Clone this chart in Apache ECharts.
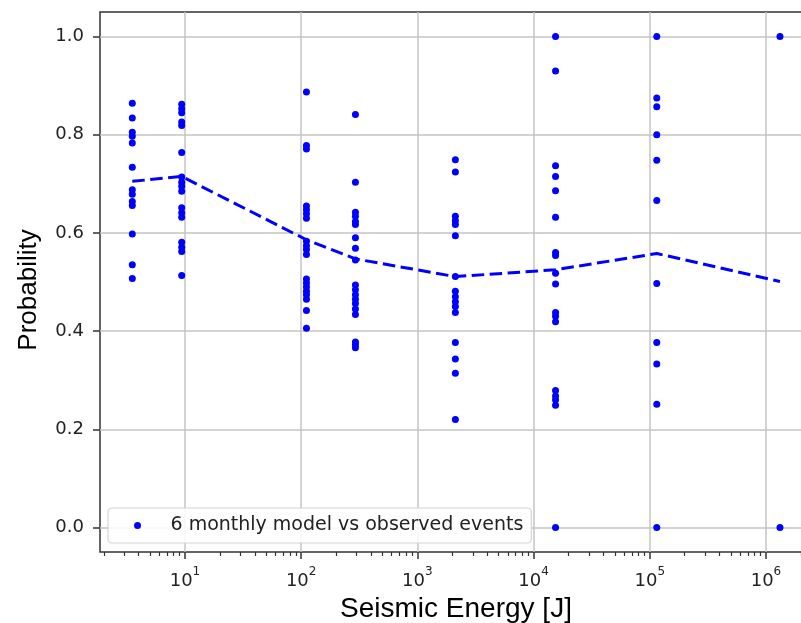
<!DOCTYPE html>
<html>
<head>
<meta charset="utf-8">
<script src="https://cdn.jsdelivr.net/npm/echarts@6/dist/echarts.min.js"></script>
<style>html,body{margin:0;padding:0;background:#fff;overflow:hidden}#c{width:801px;height:623px}</style>
</head>
<body>
<div id="c"></div>
<script>
// ---- data ----
const seriesName = '6 monthly model vs observed events';
const energies = [3.52, 9.37, 111, 293, 2123, 15460, 114900, 1320000];
const probCol1 = [0.864, 0.834, 0.805, 0.797, 0.783, 0.734, 0.688, 0.679, 0.664, 0.656, 0.598, 0.535, 0.507];
const probCol2 = [0.862, 0.853, 0.845, 0.826, 0.819, 0.764, 0.714, 0.703, 0.695, 0.685, 0.651, 0.641, 0.632, 0.581, 0.571, 0.562, 0.513];
const probCol3 = [0.887, 0.778, 0.771, 0.655, 0.647, 0.639, 0.630, 0.583, 0.574, 0.566, 0.556, 0.506, 0.498, 0.490, 0.481, 0.474, 0.465, 0.442, 0.406];
const probCol4 = [0.841, 0.703, 0.642, 0.634, 0.623, 0.617, 0.590, 0.569, 0.545, 0.494, 0.484, 0.474, 0.465, 0.456, 0.445, 0.434, 0.378, 0.372, 0.366];
const probCol5 = [0.749, 0.724, 0.634, 0.625, 0.617, 0.594, 0.511, 0.481, 0.470, 0.460, 0.450, 0.438, 0.377, 0.343, 0.314, 0.220];
const probCol6 = [1.0, 0.930, 0.737, 0.715, 0.686, 0.632, 0.560, 0.554, 0.518, 0.496, 0.438, 0.430, 0.419, 0.279, 0.268, 0.260, 0.249, 0.0];
const probCol7 = [1.0, 0.875, 0.857, 0.800, 0.748, 0.666, 0.497, 0.377, 0.333, 0.251, 0.0];
const probCol8 = [1.0, 0.0];
const meanProb = [0.705, 0.715, 0.586, 0.547, 0.511, 0.525, 0.558, 0.501];
const xTickValues = [10, 100, 1000, 10000, 100000, 1000000];
const xMinorTickValues = [2,3,4,5,6,7,8,9, 20,30,40,50,60,70,80,90, 200,300,400,500,600,700,800,900,
  2000,3000,4000,5000,6000,7000,8000,9000, 20000,30000,40000,50000,60000,70000,80000,90000,
  200000,300000,400000,500000,600000,700000,800000,900000, 2000000];
const yTickValues = [0, 0.2, 0.4, 0.6, 0.8, 1.0];

// ---- build ----
const columns = [probCol1, probCol2, probCol3, probCol4, probCol5, probCol6, probCol7, probCol8];
const scatterData = [];
columns.forEach((col, i) => col.forEach(p => scatterData.push([energies[i], p])));
const lineData = energies.map((e, i) => [e, meanProb[i]]);

const X_MIN = 1.856, X_MAX = 2.49e6, Y_MIN = -0.05, Y_MAX = 1.05;
const gridBox = {left: 100, width: 712, top: 12, bottom: 71, outerBoundsMode: 'none', containLabel: false};
const tickFont = 'DejaVu Sans';
const blue = '#0000ff';

const chart = echarts.init(document.getElementById('c'), null, {renderer: 'canvas'});
chart.setOption({
  animation: false,
  backgroundColor: '#fff',
  grid: [
    Object.assign({show: true, borderColor: '#333', borderWidth: 1.5, backgroundColor: 'transparent'}, gridBox),
    Object.assign({show: false}, gridBox)
  ],
  legend: {
    data: [{name: seriesName, icon: 'circle'}],
    left: 108, top: 508,
    itemWidth: 56, itemHeight: 7, itemGap: 0,
    padding: [8, 8, 8, 26],
    backgroundColor: 'rgba(255,255,255,0.85)',
    borderColor: '#d4d4d4', borderWidth: 1.2, borderRadius: 4,
    textStyle: {fontFamily: tickFont, fontSize: 19, color: '#222'}
  },
  xAxis: [
    {
      type: 'log', logBase: 10, gridIndex: 0, min: X_MIN, max: X_MAX,
      name: 'Seismic Energy [J]', nameLocation: 'middle', nameGap: 38,
      nameTextStyle: {fontFamily: 'Liberation Sans', fontSize: 28, color: '#000'},
      axisLine: {show: false, onZero: false},
      axisTick: {show: true, customValues: xTickValues, length: 7, lineStyle: {color: '#333', width: 1.5}},
      axisLabel: {
        customValues: xTickValues, margin: 14,
        formatter: v => '{b|10}{s|' + Math.round(Math.log10(v)) + '}',
        rich: {
          b: {fontFamily: tickFont, fontSize: 18, color: '#222', verticalAlign: 'bottom', lineHeight: 24},
          s: {fontFamily: tickFont, fontSize: 12, color: '#222', verticalAlign: 'top', lineHeight: 24}
        }
      },
      splitLine: {show: true, lineStyle: {color: '#c4c4c4', width: 1.5}}
    },
    {
      type: 'log', logBase: 10, gridIndex: 1, min: X_MIN, max: X_MAX,
      axisLine: {show: false, onZero: false},
      axisTick: {show: true, customValues: xMinorTickValues, length: 4, lineStyle: {color: '#333', width: 1.2}},
      axisLabel: {show: false},
      splitLine: {show: false}
    }
  ],
  yAxis: [
    {
      type: 'value', gridIndex: 0, min: Y_MIN, max: Y_MAX,
      name: 'Probability', nameLocation: 'middle', nameGap: 58,
      nameTextStyle: {fontFamily: 'Liberation Sans', fontSize: 26, color: '#000', padding: [0, 16, 0, 0]},
      axisLine: {show: false, onZero: false},
      axisTick: {show: true, customValues: yTickValues, length: 7, lineStyle: {color: '#333', width: 1.5}},
      axisLabel: {
        customValues: yTickValues, margin: 16,
        fontFamily: tickFont, fontSize: 18, color: '#222',
        formatter: v => Number(v).toFixed(1)
      },
      splitLine: {show: true, lineStyle: {color: '#c4c4c4', width: 1.5}}
    },
    {
      type: 'value', gridIndex: 1, min: Y_MIN, max: Y_MAX,
      axisLine: {show: false, onZero: false}, axisTick: {show: false}, axisLabel: {show: false}, splitLine: {show: false}
    }
  ],
  series: [
    {
      name: 'mean', type: 'line', xAxisIndex: 0, yAxisIndex: 0,
      data: lineData, symbol: 'none', z: 3,
      lineStyle: {color: blue, width: 3, type: [12.5, 5.5]}
    },
    {
      name: seriesName, type: 'scatter', xAxisIndex: 0, yAxisIndex: 0,
      data: scatterData, symbol: 'circle', symbolSize: 7, z: 4, clip: false,
      itemStyle: {color: blue, opacity: 1}
    }
  ]
});
</script>
</body>
</html>
